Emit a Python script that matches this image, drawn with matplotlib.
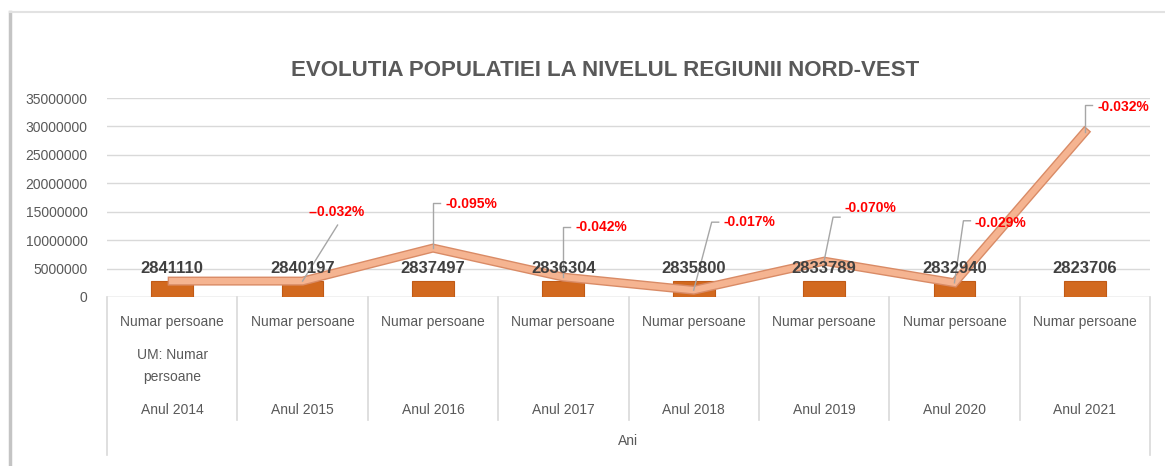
import matplotlib
matplotlib.use("Agg")
import matplotlib.pyplot as plt
import matplotlib.transforms as mtransforms
from matplotlib.lines import Line2D

years = ["Anul 2014", "Anul 2015", "Anul 2016", "Anul 2017",
         "Anul 2018", "Anul 2019", "Anul 2020", "Anul 2021"]
population = [2841110, 2840197, 2837497, 2836304, 2835800, 2833789, 2832940, 2823706]
line_values = [2.8e6, 2.8e6, 8.6e6, 3.5e6, 1.2e6, 6.3e6, 2.5e6, 29.0e6]
pct_labels = ["", "--0.032%", "-0.095%", "-0.042%", "-0.017%", "-0.070%", "-0.029%", "-0.032%"]

# leader line end (dx, dy) in pixels from the line point, and text offset
leaders = [None, (35, 56), (0, 45), (0, 50), (18, 68), (9, 44), (9, 62), (0, 27)]
text_off = [None, (34, 69), (13, 44), (12, 50), (30, 68), (20, 53), (20, 60), (13, 25)]

fig = plt.figure(figsize=(11.65, 4.66), dpi=100)
fig.patch.set_facecolor("white")

# chart frame
fig.add_artist(Line2D([10 / 1165, 10 / 1165], [0, 1 - 12 / 466], transform=fig.transFigure,
                      color="#c4c4c4", lw=2.5))
fig.add_artist(Line2D([10 / 1165, 1], [1 - 12 / 466, 1 - 12 / 466], transform=fig.transFigure,
                      color="#e2e2e2", lw=1.5))

ax = fig.add_axes([107 / 1165, 1 - 297 / 466, (1150 - 107) / 1165, (297 - 98) / 466])
x = list(range(len(years)))

ax.set_ylim(0, 35000000)
ax.set_xlim(-0.5, len(years) - 0.5)
ax.set_yticks(range(0, 35000001, 5000000))
ax.set_yticklabels([str(v) for v in range(0, 35000001, 5000000)],
                   fontfamily="Liberation Sans", fontsize=10, color="#595959")
ax.tick_params(axis="y", length=0, pad=14)
ax.set_xticks([])
ax.grid(axis="y", color="#d9d9d9", lw=1)
ax.set_axisbelow(True)
for s in ax.spines.values():
    s.set_visible(False)
ax.axhline(0, color="#d9d9d9", lw=1, zorder=1)

ax.bar(x, population, width=0.32, color="#d2691f", edgecolor="#c05a16", lw=0.8, zorder=2)
for xi, v in zip(x, population):
    ax.annotate(str(v), (xi, v), xytext=(0, 5), textcoords="offset pixels",
                ha="center", va="bottom", fontsize=12, fontweight="bold",
                fontfamily="Liberation Sans", color="#404040", zorder=8)

ax.plot(x, line_values, color="#d98b66", lw=6.5, solid_joinstyle="miter", zorder=4)
ax.plot(x, line_values, color="#f5b491", lw=4.5, solid_joinstyle="miter", zorder=5)

for xi, v, lab, ld, to in zip(x, line_values, pct_labels, leaders, text_off):
    if not lab:
        continue
    tr = mtransforms.ScaledTranslation(xi, v, ax.transData)
    if lab.startswith("--"):
        xs, ys = [0, ld[0]], [0, ld[1]]
        ha = "center"
    else:
        xs, ys = [0, ld[0], ld[0] + 7], [0, ld[1], ld[1]]
        ha = "left"
    ax.add_line(Line2D(xs, ys, transform=tr, color="#a6a6a6", lw=1, zorder=6))
    ax.text(to[0], to[1], lab, transform=tr, ha=ha, va="center", fontsize=10,
            fontweight="bold", fontfamily="Liberation Sans", color="#ff0000", zorder=7)

# category table below the axis
xt = ax.get_xaxis_transform()
h = (297 - 98)
for xi, yr in zip(x, years):
    ax.text(xi, -25 / h, "Numar persoane", transform=xt, ha="center", va="center",
            fontsize=10, fontfamily="Liberation Sans", color="#595959", clip_on=False)
    ax.text(xi, -113 / h, yr, transform=xt, ha="center", va="center",
            fontsize=10, fontfamily="Liberation Sans", color="#595959", clip_on=False)
ax.text(0, -58 / h, "UM: Numar", transform=xt, ha="center", va="center",
        fontsize=10, fontfamily="Liberation Sans", color="#595959", clip_on=False)
ax.text(0, -80 / h, "persoane", transform=xt, ha="center", va="center",
        fontsize=10, fontfamily="Liberation Sans", color="#595959", clip_on=False)
ax.text(3.5, -144 / h, "Ani", transform=xt, ha="center", va="center",
        fontsize=10, fontfamily="Liberation Sans", color="#595959", clip_on=False)

for b in range(len(years) + 1):
    bottom = -158 / h if b in (0, len(years)) else -123 / h
    ax.add_line(Line2D([b - 0.5, b - 0.5], [0, bottom], transform=xt,
                       color="#d9d9d9", lw=1.2, clip_on=False))

fig.text(605 / 1165, 1 - 70 / 466, "EVOLUTIA POPULATIEI LA NIVELUL REGIUNII NORD-VEST",
         ha="center", va="center", fontsize=16, fontweight="bold",
         fontfamily="Liberation Sans", color="#595959")

fig.savefig("out.png", dpi=100)
